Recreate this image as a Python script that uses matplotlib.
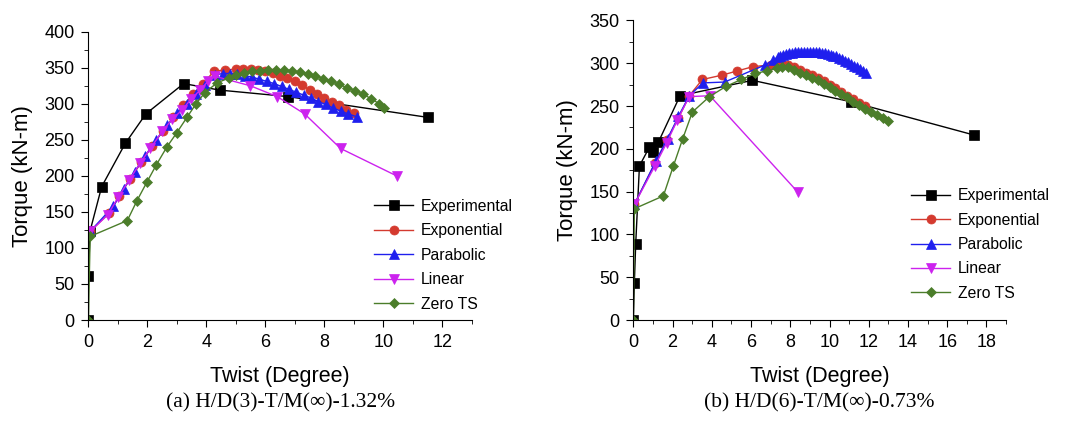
import matplotlib
matplotlib.use("Agg")
import matplotlib.pyplot as plt
from matplotlib.ticker import MultipleLocator

plt.rcParams['font.family'] = ['Liberation Sans', 'DejaVu Sans']

labels = ['Experimental', 'Exponential', 'Parabolic', 'Linear', 'Zero TS']

# ---- panel (a) H/D(3)
exp_a_x = [0, 0, 0.06, 0.45, 1.25, 1.95, 3.23, 4.45, 6.76, 11.53]
exp_a_y = [0, 61, 124, 185, 245, 286, 328, 319, 310, 281]

expo_a_x = [0.06, 0.7, 1.05, 1.42, 1.8, 2.15, 2.52, 2.88, 3.22, 3.55, 3.9, 4.25, 4.62,
            5.0, 5.25, 5.5, 5.75, 6.0, 6.25, 6.5, 6.75, 7.0, 7.25, 7.5, 7.75, 8.0,
            8.25, 8.5, 8.75, 9.0]
expo_a_y = [123, 148, 172, 196, 219, 241, 262, 281, 298, 313, 328, 345, 347,
            348, 348, 348, 347, 345, 343, 339, 336, 331, 326, 319, 313, 308,
            303, 298, 292, 287]

para_a_x = [0.06, 0.85, 1.2, 1.57, 1.93, 2.3, 2.68, 3.0, 3.33, 3.65, 3.95, 4.3, 4.55,
            4.8, 5.05, 5.3, 5.55, 5.8, 6.05, 6.3, 6.55, 6.8, 7.05, 7.3, 7.55, 7.8,
            8.05, 8.3, 8.55, 8.8, 9.1]
para_a_y = [123, 158, 182, 206, 228, 250, 270, 287, 300, 314, 326, 340, 342,
            342, 341, 339, 337, 334, 331, 328, 324, 320, 316, 312, 308, 303,
            299, 294, 290, 286, 282]

lin_a_x = [0.06, 0.66, 1.02, 1.38, 1.76, 2.1, 2.51, 2.85, 3.17, 3.49, 3.79, 4.05, 4.3,
           5.49, 6.4, 7.33, 8.55, 10.45]
lin_a_y = [123, 146, 171, 194, 218, 238, 262, 279, 291, 307, 319, 331, 338,
           325, 310, 286, 238, 200]

zts_a_x = [0, 0.06, 1.32, 1.64, 1.98, 2.3, 2.66, 3.0, 3.34, 3.65, 3.94, 4.36, 4.78,
           5.0, 5.27, 5.54, 5.81, 6.08, 6.35, 6.62, 6.89, 7.16, 7.43, 7.7, 7.97,
           8.24, 8.51, 8.78, 9.05, 9.32, 9.59, 9.86, 10.02]
zts_a_y = [0, 116, 138, 165, 191, 215, 240, 260, 281, 300, 315, 329, 336,
           340, 343, 345, 346, 347, 347, 347, 346, 344, 342, 339, 335,
           331, 327, 322, 318, 313, 307, 300, 294]

# ---- panel (b) H/D(6)
exp_b_x = [0, 0.05, 0.12, 0.31, 0.82, 0.99, 1.28, 2.38, 6.07, 11.09, 17.38]
exp_b_y = [0, 43, 89, 180, 202, 196, 208, 262, 280, 255, 216]

expo_b_x = [0.05, 1.1, 1.7, 2.3, 2.85, 3.52, 4.51, 5.3, 6.1, 7.0, 7.3, 7.6, 7.9, 8.2,
            8.5, 8.8, 9.1, 9.4, 9.7, 10.0, 10.3, 10.6, 10.9, 11.2, 11.5, 11.8]
expo_b_y = [135, 183, 210, 236, 262, 281, 286, 291, 296, 298, 299, 299, 298, 295,
            292, 289, 286, 283, 279, 275, 271, 266, 262, 258, 254, 250]

para_b_x = [0.05, 1.15, 1.75, 2.3, 2.85, 3.55, 4.65, 6.72, 7.14, 7.35, 7.5, 7.65, 7.8,
            7.95, 8.1, 8.25, 8.4, 8.55, 8.7, 8.85, 9.0, 9.15, 9.3, 9.45, 9.6, 9.75,
            9.9, 10.05, 10.2, 10.35, 10.5, 10.65, 10.8, 10.95, 11.1, 11.25, 11.4,
            11.55, 11.7, 11.85]
para_b_y = [135, 186, 212, 238, 262, 277, 278, 298, 304, 307, 309, 310, 311,
            312, 312, 313, 313, 313, 313, 313, 313, 313, 313, 313, 312, 312,
            311, 310, 309, 308, 306, 305, 303, 301, 299, 297, 295,
            293, 291, 289]

lin_b_x = [0.05, 1.1, 1.7, 2.25, 2.85, 3.9, 8.4]
lin_b_y = [135, 180, 207, 234, 261, 262, 149]

zts_b_x = [0, 0.05, 1.53, 2.04, 2.52, 3.01, 3.88, 4.73, 5.5, 6.21, 6.8, 7.32,
           7.6, 7.9, 8.2, 8.5, 8.8, 9.1, 9.4, 9.7, 10.0, 10.3, 10.6, 10.9, 11.2,
           11.5, 11.8, 12.1, 12.4, 12.7, 13.0]
zts_b_y = [0, 130, 145, 180, 212, 243, 261, 273, 281, 288, 291, 294,
           296, 295, 292, 289, 286, 283, 280, 276, 272, 268, 264, 260, 255,
           251, 247, 243, 240, 236, 232]

colors = ['black', '#d43a2f', '#1f1fee', '#cc22ee', '#4b7d2a']
markers = ['s', 'o', '^', 'v', 'D']
msizes = [6.5, 6.5, 7, 7, 5.5]

fig = plt.figure(figsize=(10.65, 4.21), dpi=100)

panels = [
    dict(rect=[0.083, 0.2399, 0.360, 0.6848], xlim=13, ylim=400,
         data=[(exp_a_x, exp_a_y), (expo_a_x, expo_a_y), (para_a_x, para_a_y),
               (lin_a_x, lin_a_y), (zts_a_x, zts_a_y)],
         leg=(0.745, 0.42), capy=-0.288, cap='(a) H/D(3)-T/M(\u221e)-1.32%'),
    dict(rect=[0.5947, 0.2399, 0.350, 0.7116], xlim=19, ylim=350,
         data=[(exp_b_x, exp_b_y), (expo_b_x, expo_b_y), (para_b_x, para_b_y),
               (lin_b_x, lin_b_y), (zts_b_x, zts_b_y)],
         leg=(0.745, 0.44), capy=-0.277, cap='(b) H/D(6)-T/M(\u221e)-0.73%'),
]

for p in panels:
    ax = fig.add_axes(p['rect'])
    for (x, y), c, m, ms, lab in zip(p['data'], colors, markers, msizes, labels):
        ax.plot(x, y, color=c, marker=m, markersize=ms, linewidth=1.0,
                markeredgewidth=0.5, label=lab)
    ax.set_xlim(0, p['xlim'])
    ax.set_ylim(0, p['ylim'])
    ax.xaxis.set_major_locator(MultipleLocator(2))
    ax.xaxis.set_minor_locator(MultipleLocator(1))
    ax.yaxis.set_major_locator(MultipleLocator(50))
    ax.yaxis.set_minor_locator(MultipleLocator(25))
    ax.spines['top'].set_visible(False)
    ax.spines['right'].set_visible(False)
    ax.tick_params(which='major', direction='out', length=5, pad=5, labelsize=13)
    ax.tick_params(which='minor', direction='out', length=3)
    ax.set_xlabel('Twist (Degree)', fontsize=15.5, labelpad=11)
    ax.set_ylabel('Torque (kN-m)', fontsize=16, labelpad=8)
    ax.legend(loc='upper left', bbox_to_anchor=p['leg'], frameon=False,
              fontsize=11.3, handlelength=2.5, handletextpad=0.5,
              labelspacing=0.6, borderpad=0, borderaxespad=0)
    ax.text(0.5, p['capy'], p['cap'], transform=ax.transAxes, ha='center',
            va='center', fontsize=15.5, family=['Liberation Serif', 'DejaVu Serif'])

fig.savefig('out.png', dpi=100)
